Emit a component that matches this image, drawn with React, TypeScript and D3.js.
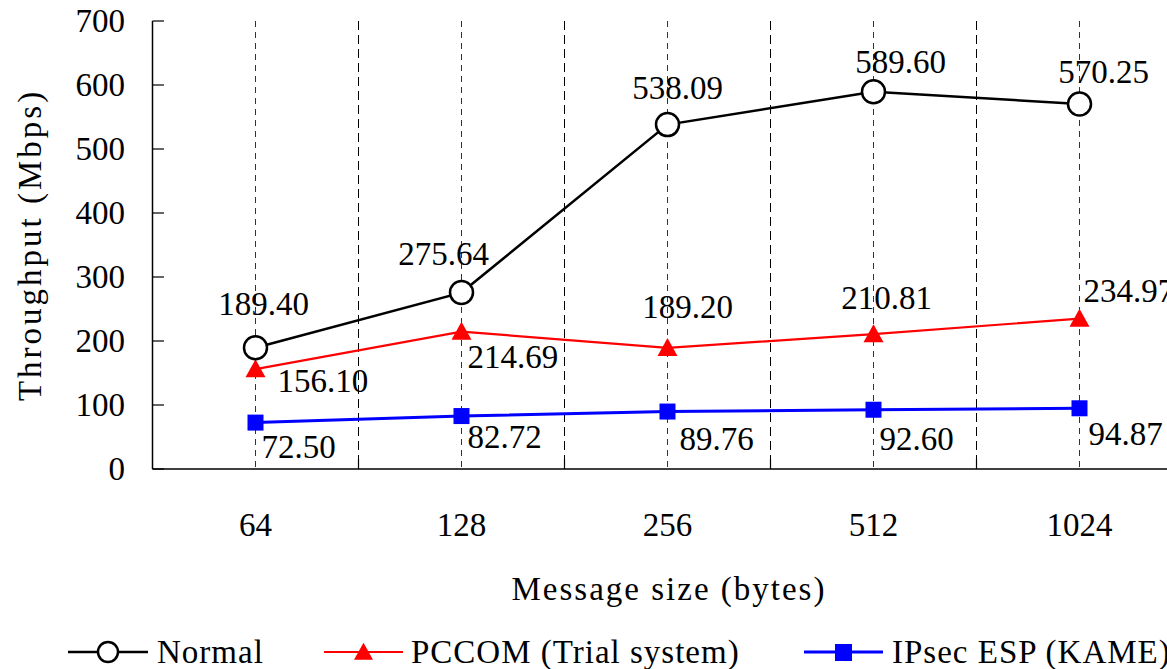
import React from "react";
import * as d3 from "d3";

const categories = ["64", "128", "256", "512", "1024"];
const normalValues = [189.4, 275.64, 538.09, 589.6, 570.25];
const pccomValues = [156.1, 214.69, 189.2, 210.81, 234.97];
const ipsecValues = [72.5, 82.72, 89.76, 92.6, 94.87];
const yTicks = [0, 100, 200, 300, 400, 500, 600, 700];
const seriesNames = ["Normal", "PCCOM (Trial system)", "IPsec ESP (KAME)"];

// label placement relative to point: [dx, dy, anchor]
const normalLabelPos: [number, number, string][] = [
  [8, -33, "middle"], [-18, -28, "middle"], [10, -26, "middle"], [27, -19, "middle"], [24, -21, "middle"],
];
const pccomLabelPos: [number, number, string][] = [
  [22, 23, "start"], [6, 36, "start"], [20, -30, "middle"], [13, -25, "middle"], [4, -17, "start"],
];
const ipsecLabelPos: [number, number, string][] = [
  [6, 35, "start"], [6, 32, "start"], [12, 38, "start"], [6, 40, "start"], [9, 37, "start"],
];

const W = 1167;
const H = 669;
const FONT = "'Liberation Serif', 'Times New Roman', serif";
const FS = 33;

export default function App() {
  const x = d3.scaleBand<string>().domain(categories).range([152.5, 1182.5]).padding(0);
  const y = d3.scaleLinear().domain([0, 700]).range([469, 21]);
  const cx = (c: string) => (x(c) as number) + x.bandwidth() / 2;
  const line = d3
    .line<number>()
    .x((_, i) => cx(categories[i]))
    .y((d) => y(d));

  const boundaries = categories.slice(1).map((c) => x(c) as number);
  const fmt = d3.format(".2f");

  const tri = (px: number, py: number, w: number, h: number) =>
    `M${px},${py - h * 0.55} L${px + w / 2},${py + h * 0.45} L${px - w / 2},${py + h * 0.45} Z`;

  return (
    <svg width={W} height={H} style={{ position: "absolute", left: 0, top: 0, background: "#fff" }}>
      <rect x={0} y={0} width={W} height={H} fill="#fff" />
      {/* center dashed lines */}
      {categories.map((c) => (
        <line key={"cg" + c} x1={cx(c)} x2={cx(c)} y1={y(700)} y2={y(0)} stroke="#333" strokeWidth={1} strokeDasharray="6,5" />
      ))}
      {/* boundary dashed lines */}
      {boundaries.map((b, i) => (
        <g key={"bg" + i}>
          <line x1={b} x2={b} y1={y(700)} y2={y(0)} stroke="#000" strokeWidth={1} strokeDasharray="9,5" />
          <line x1={b} x2={b} y1={y(0) - 10} y2={y(0)} stroke="#000" strokeWidth={1.2} />
        </g>
      ))}
      {/* axes */}
      <line x1={152.5} x2={152.5} y1={y(700)} y2={y(0)} stroke="#000" strokeWidth={1.5} />
      <line x1={152.5} x2={W} y1={y(0)} y2={y(0)} stroke="#000" strokeWidth={1.5} />
      {yTicks.map((t) => (
        <g key={"yt" + t}>
          <line x1={152.5} x2={164} y1={y(t)} y2={y(t)} stroke="#000" strokeWidth={1.2} />
          <text x={125} y={y(t) + 11} textAnchor="end" fontFamily={FONT} fontSize={FS} fill="#000">
            {t}
          </text>
        </g>
      ))}
      {categories.map((c) => (
        <text key={"xl" + c} x={cx(c)} y={536} textAnchor="middle" fontFamily={FONT} fontSize={FS} fill="#000">
          {c}
        </text>
      ))}
      <text x={669} y={600} textAnchor="middle" fontFamily={FONT} fontSize={FS} letterSpacing={2} fill="#000">
        Message size (bytes)
      </text>
      <text
        transform={`translate(41,245) rotate(-90)`}
        textAnchor="middle"
        fontFamily={FONT}
        fontSize={FS}
        letterSpacing={3}
        fill="#000"
      >
        Throughput (Mbps)
      </text>

      {/* series lines */}
      <path d={line(ipsecValues) || ""} fill="none" stroke="#0000ff" strokeWidth={3} />
      <path d={line(pccomValues) || ""} fill="none" stroke="#ff0000" strokeWidth={2.2} />
      <path d={line(normalValues) || ""} fill="none" stroke="#000" strokeWidth={2.5} />

      {/* markers */}
      {ipsecValues.map((v, i) => (
        <rect key={"ip" + i} x={cx(categories[i]) - 8} y={y(v) - 8} width={16} height={16} fill="#0000ff" />
      ))}
      {pccomValues.map((v, i) => (
        <path key={"pc" + i} d={tri(cx(categories[i]), y(v), 20, 18)} fill="#ff0000" />
      ))}
      {normalValues.map((v, i) => (
        <circle key={"nm" + i} cx={cx(categories[i])} cy={y(v)} r={11.5} fill="#fff" stroke="#000" strokeWidth={2.5} />
      ))}

      {/* data labels */}
      {normalValues.map((v, i) => (
        <text key={"nl" + i} x={cx(categories[i]) + normalLabelPos[i][0]} y={y(v) + normalLabelPos[i][1]}
          textAnchor={normalLabelPos[i][2]} fontFamily={FONT} fontSize={FS} fill="#000">
          {fmt(v)}
        </text>
      ))}
      {pccomValues.map((v, i) => (
        <text key={"pl" + i} x={cx(categories[i]) + pccomLabelPos[i][0]} y={y(v) + pccomLabelPos[i][1]}
          textAnchor={pccomLabelPos[i][2]} fontFamily={FONT} fontSize={FS} fill="#000">
          {fmt(v)}
        </text>
      ))}
      {ipsecValues.map((v, i) => (
        <text key={"il" + i} x={cx(categories[i]) + ipsecLabelPos[i][0]} y={y(v) + ipsecLabelPos[i][1]}
          textAnchor={ipsecLabelPos[i][2]} fontFamily={FONT} fontSize={FS} fill="#000">
          {fmt(v)}
        </text>
      ))}

      {/* legend */}
      <g>
        <line x1={68} x2={148} y1={652} y2={652} stroke="#000" strokeWidth={2.5} />
        <circle cx={108} cy={652} r={10} fill="#fff" stroke="#000" strokeWidth={2.5} />
        <text x={157} y={663} fontFamily={FONT} fontSize={FS} letterSpacing={1} fill="#000">{seriesNames[0]}</text>

        <line x1={324} x2={403} y1={652} y2={652} stroke="#ff0000" strokeWidth={2.2} />
        <path d={tri(363.5, 652, 19, 17)} fill="#ff0000" />
        <text x={411} y={663} fontFamily={FONT} fontSize={FS} letterSpacing={1} fill="#000">{seriesNames[1]}</text>

        <line x1={804} x2={883} y1={652} y2={652} stroke="#0000ff" strokeWidth={3} />
        <rect x={835} y={644} width={17} height={17} fill="#0000ff" />
        <text x={892} y={663} fontFamily={FONT} fontSize={FS} letterSpacing={1} fill="#000">{seriesNames[2]}</text>
      </g>
    </svg>
  );
}
